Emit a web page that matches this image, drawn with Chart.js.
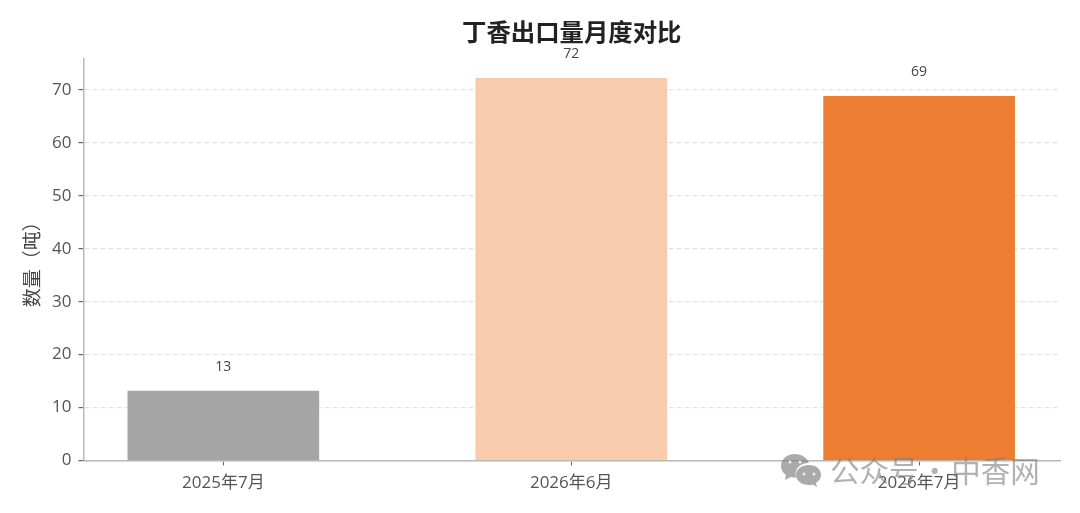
<!DOCTYPE html>
<html>
<head>
<meta charset="utf-8">
<style>
  html, body { margin: 0; padding: 0; background: #fff; }
  #wrap { position: relative; width: 1080px; height: 513px; overflow: hidden; }
  #mark { position: absolute; left: 780px; top: 449px; height: 40px; display: flex; align-items: center;
    font: 29.5px "Noto Sans CJK SC"; word-spacing: -5px; color: rgba(125,125,125,.6); white-space: nowrap; }
</style>
<script src="https://cdn.jsdelivr.net/npm/chart.js@4"></script>
</head>
<body>
<div id="wrap">
  <canvas id="chart" width="1080" height="513"></canvas>
  <div id="mark">
    <svg width="42" height="36" viewBox="0 0 42 36">
      <path d="M15 3C7 3 1 8 1 15c0 4 2 7 5 9l-1 5 6-3c2 .5 4 .6 5 .5C14 18 20 12 29 12 27 7 22 3 15 3z" fill="rgba(130,130,130,.68)"/>
      <path d="M29 14c-7 0-13 4-13 10s6 10 13 10c2 0 3 0 4-.5l4 2.500-1-4c3-2 5-5 5-8 0-6-5-10-12-10z" fill="rgba(130,130,130,.68)"/>
      <circle cx="24" cy="23" r="1.500" fill="#eee"/><circle cx="34" cy="23" r="1.500" fill="#eee"/>
      <circle cx="10" cy="11" r="1.500" fill="#eee"/><circle cx="20" cy="11" r="1.500" fill="#eee"/>
    </svg>
    <span style="margin-left:8px">公众号 · 中香网</span>
  </div>
</div>
<script>
const categories = ['2025年7月', '2026年6月', '2026年7月'];
const valueLabelsText = ['13', '72', '69'];
const barValues = [13.1, 72.2, 68.8];
const barColors = ['#a5a5a5', '#f8cbad', '#ed7d31'];
const yTicks = [0, 10, 20, 30, 40, 50, 60, 70];

const font = '"Open Sans", "Noto Sans CJK SC", sans-serif';

// title centred over the plot, value labels a fixed distance above each bar
const annotate = {
  id: 'annotate',
  afterDatasetsDraw(chart) {
    const { ctx, chartArea } = chart;
    ctx.save();
    ctx.textAlign = 'center';
    ctx.textBaseline = 'middle';
    ctx.font = '14px ' + font;
    ctx.fillStyle = '#444';
    chart.getDatasetMeta(0).data.forEach((bar, i) => ctx.fillText(valueLabelsText[i], bar.x, bar.y - 24));
    ctx.font = 'bold 24.4px "Noto Sans CJK SC", sans-serif';
    ctx.fillStyle = '#222';
    ctx.fillText('丁香出口量月度对比', (chartArea.left + chartArea.right) / 2, 32);
    ctx.restore();
  }
};

new Chart(document.getElementById('chart'), {
  type: 'bar',
  data: {
    datasets: [{
      data: categories.map((c, i) => ({ x: i, y: barValues[i] })),
      backgroundColor: barColors,
      barThickness: 191
    }]
  },
  options: {
    responsive: false,
    animation: false,
    layout: { padding: { left: 0, right: 20, top: 59, bottom: 0 } },
    plugins: { legend: { display: false }, tooltip: { enabled: false } },
    scales: {
      x: {
        type: 'linear',
        min: -0.402, max: 2.405,
        offset: false,
        afterBuildTicks(axis) { axis.ticks = categories.map((c, i) => ({ value: i })); },
        afterFit(axis) { axis.height = 52.5; },
        grid: { offset: false, drawOnChartArea: false, tickColor: '#666', tickLength: 5 },
        border: { color: '#b8b8b8', width: 1.5 },
        ticks: { color: '#555', maxRotation: 0, padding: 7, font: { family: font, size: 17 }, callback: v => categories[v] }
      },
      y: {
        min: 0, max: 75.86,
        afterBuildTicks(axis) { axis.ticks = yTicks.map(value => ({ value })); },
        afterFit(axis) { axis.width = 83.5; },
        grid: { color: '#e2e2e2', lineWidth: 1.2, tickColor: '#666', tickLength: 5, tickBorderDash: [] },
        border: { color: '#b8b8b8', width: 1.5, dash: [5, 3] },
        ticks: { color: '#555', padding: 7, font: { family: font, size: 17 } },
        title: { display: true, text: '数量（吨）', color: '#444', padding: { top: 22, bottom: 0 }, font: { family: font, size: 19 } }
      }
    }
  },
  plugins: [annotate]
});
</script>
</body>
</html>
